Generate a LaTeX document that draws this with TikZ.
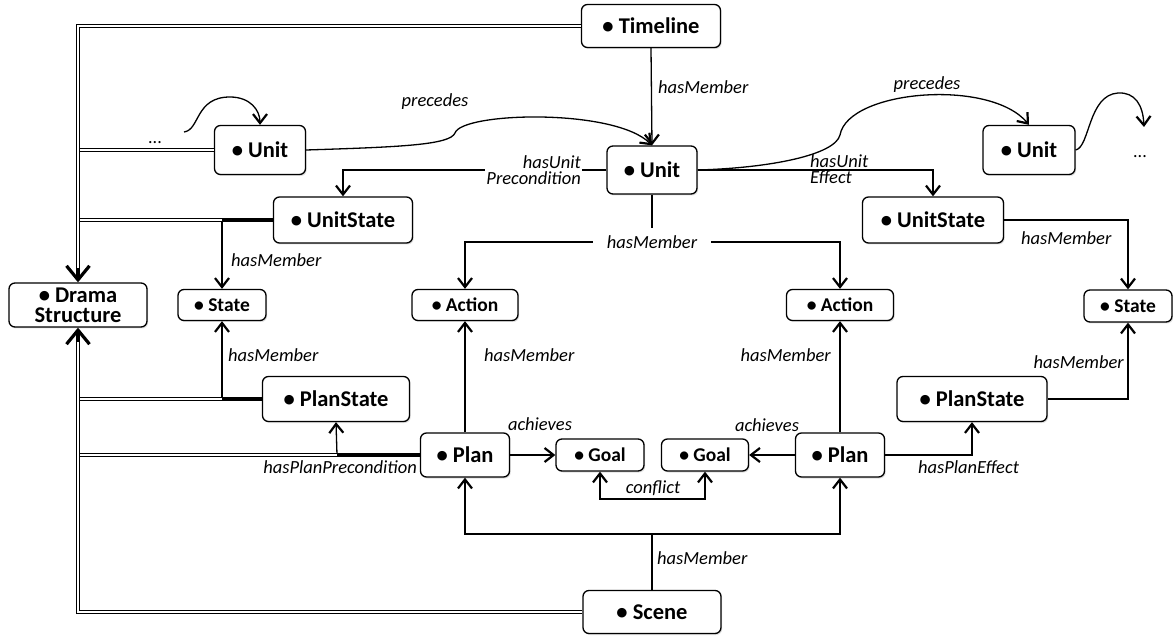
\documentclass[tikz,border=0pt]{standalone}
\usepackage{fontspec}
\setmainfont{Carlito}
\usepackage{tikz}
\usetikzlibrary{arrows.meta,shadows,positioning}
\tikzset{
    clase/.style={rectangle,draw,rounded corners=6pt,line width=1.3pt,fill=white,inner sep=0pt,align=center,
        node font=\bfseries\fontsize{22.5}{20}\selectfont,
        drop shadow={shadow xshift=1.2pt,shadow yshift=-1.5pt,opacity=.25}},
    chica/.style={clase,node font=\bfseries\fontsize{19.5}{19.5}\selectfont},
    etiq/.style={inner sep=1pt,node font=\itshape\fontsize{18.5}{16.5}\selectfont},
    puntos/.style={inner sep=0pt,node font=\fontsize{18}{18}\selectfont},
    linea/.style={draw,line width=1.3pt},
    flecha/.style={draw,line width=1.3pt,-{Straight Barb[length=9pt,width=14pt,line width=2.2pt]}},
    gruesa/.style={draw,line width=3.5pt},
    doble/.style={draw,double,line width=1.3pt,double distance=2pt},
    flechaG/.style={draw,line width=3.2pt,-{Straight Barb[length=14pt,width=23pt]}},
}
\begin{document}
\begin{tikzpicture}[x=1pt,y=-1pt]
    \useasboundingbox (0,0) rectangle (1173,636);
    \node [clase,minimum width=139pt,minimum height=43pt] (timeline) at (651,26) {• Timeline};
    \node [clase,minimum width=90pt,minimum height=48pt] (unit) at (652,170) {• Unit};
    \node [clase,minimum width=91pt,minimum height=49pt] (unitA) at (260,150) {• Unit};
    \node [clase,minimum width=92pt,minimum height=49pt] (unitB) at (1029,150) {• Unit};
    \node [clase,minimum width=139pt,minimum height=46pt] (usA) at (343,220) {• UnitState};
    \node [clase,minimum width=141pt,minimum height=46pt] (usB) at (933,220) {• UnitState};
    \node [clase,minimum width=138pt,minimum height=44pt] (drama) at (78,305) {• Drama\\Structure};
    \node [chica,minimum width=88pt,minimum height=31pt] (stA) at (222,305) {• State};
    \node [chica,minimum width=88pt,minimum height=32pt] (stB) at (1128,306) {• State};
    \node [chica,minimum width=106pt,minimum height=31pt] (acA) at (465,305) {• Action};
    \node [chica,minimum width=107pt,minimum height=31pt] (acB) at (840,305) {• Action};
    \node [clase,minimum width=147pt,minimum height=45pt] (psA) at (336,399) {• PlanState};
    \node [clase,minimum width=150pt,minimum height=45pt] (psB) at (972,399) {• PlanState};
    \node [clase,minimum width=89pt,minimum height=44pt] (plA) at (465,455) {• Plan};
    \node [clase,minimum width=89pt,minimum height=44pt] (plB) at (840,455) {• Plan};
    \node [chica,minimum width=88pt,minimum height=32pt] (goA) at (600,455) {• Goal};
    \node [chica,minimum width=87pt,minimum height=32pt] (goB) at (705,455) {• Goal};
    \node [clase,minimum width=138pt,minimum height=43pt] (scene) at (652,612) {• Scene};
    \node [puntos] (dotsA) at (155,143) {...};
    \node [puntos] (dotsB) at (1140,157) {...};

    \coordinate (precA) at (184,132);
    \coordinate (precB) at (1144,127);
    \coordinate (hm) at (652,242);
    \coordinate (cf) at (653,499);
    \coordinate (sc) at (652,534);
    \coordinate (jus) at (222,220);
    \coordinate (jps) at (222,399);
    \coordinate (jpl) at (337,455);
    \coordinate (tope) at (78,268);
    \coordinate (base) at (78,342);

    \path [flecha] (timeline.south) -- (unit.north);
    \path [flecha] (precA) .. controls (200,130) and (195,97) .. (230,97) .. controls (250,97) and (260,110) .. (unitA.north);
    \path [flecha] (unitA.east) .. controls (400,147) and (450,145) .. (455,133) .. controls (462,112) and (615,108) .. (unit.north);
    \path [flecha] (unit.east) .. controls (770,168) and (835,155) .. (840,135) .. controls (848,90) and (990,78) .. (unitB.north);
    \path [flecha] (unitB.east) .. controls (1090,147) and (1088,95) .. (1118,93) .. controls (1135,92) and (1143,105) .. (precB);
    \path [flecha] (unit.west) -| (usA.north);
    \path [flecha] (unit.east) -| (usB.north);
    \path [linea] (unit.south) -- (hm);
    \path [flecha] (hm) -| (acA.north);
    \path [flecha] (hm) -| (acB.north);
    \path [flecha] (plA.north) -- (acA.south);
    \path [flecha] (plB.north) -- (acB.south);
    \path [flecha] (plA.east) -- (goA.west);
    \path [flecha] (plB.west) -- (goB.east);
    \path [flecha] (cf) -| (goA.south);
    \path [flecha] (cf) -| (goB.south);
    \path [linea] (scene.north) -- (sc);
    \path [flecha] (sc) -| (plA.south);
    \path [flecha] (sc) -| (plB.south);
    \path [flecha] (plB.east) -| (psB.south);
    \path [flecha] (usB.east) -| (stB.north);
    \path [flecha] (psB.east) -| (stB.south);
    \path [gruesa] (usA.west) -- (jus);
    \path [flecha] (jus) -- (stA.north);
    \path [gruesa] (psA.west) -- (jps);
    \path [flecha] (jps) -- (stA.south);
    \path [gruesa] (plA.west) -- (jpl);
    \path [flecha] (jpl) -- (psA.south);

    \path [doble] (unitA.west) -- (unitA.west -| drama);
    \path [doble] (jus) -- (jus -| drama);
    \path [doble] (jps) -- (jps -| drama);
    \path [doble] (jpl) -- (jpl -| drama);
    \path [doble] (timeline.west) -| (tope);
    \path [doble] (scene.west) -| (base);
    \path [flechaG] (tope) -- (drama.north);
    \path [flechaG] (base) -- (drama.south);

    \node [etiq,anchor=west] (hmTl) at (657,87) {hasMember};
    \node [etiq] (precL) at (435,102) {precedes};
    \node [etiq] (precR) at (927,85) {precedes};
    \node [etiq,anchor=east,align=right,fill=white] (hupre) at (582,170) {hasUnit\\Precondition};
    \node [etiq,anchor=west,align=left] (hueff) at (809,169) {hasUnit\\Effect};
    \node [etiq,fill=white,inner xsep=14pt,inner ysep=8pt] (hmUn) at (hm) {hasMember};
    \node [etiq,anchor=west] (hmAcA) at (483,355) {hasMember};
    \node [etiq,anchor=east] (hmAcB) at (832,355) {hasMember};
    \node [etiq] (achA) at (540,424) {achieves};
    \node [etiq] (achB) at (767,425) {achieves};
    \node [etiq] (confl) at (653,488) {conflict};
    \node [etiq,anchor=west] (hmSc) at (656,558) {hasMember};
    \node [etiq,anchor=west] (hpeff) at (917,467) {hasPlanEffect};
    \node [etiq,anchor=east] (hppre) at (418,467) {hasPlanPrecondition};
    \node [etiq,anchor=west] (hmStB1) at (1020,238) {hasMember};
    \node [etiq,anchor=east] (hmStB2) at (1125,362) {hasMember};
    \node [etiq,anchor=west] (hmStA1) at (230,260) {hasMember};
    \node [etiq,anchor=west] (hmStA2) at (227,355) {hasMember};
\end{tikzpicture}
\end{document}
